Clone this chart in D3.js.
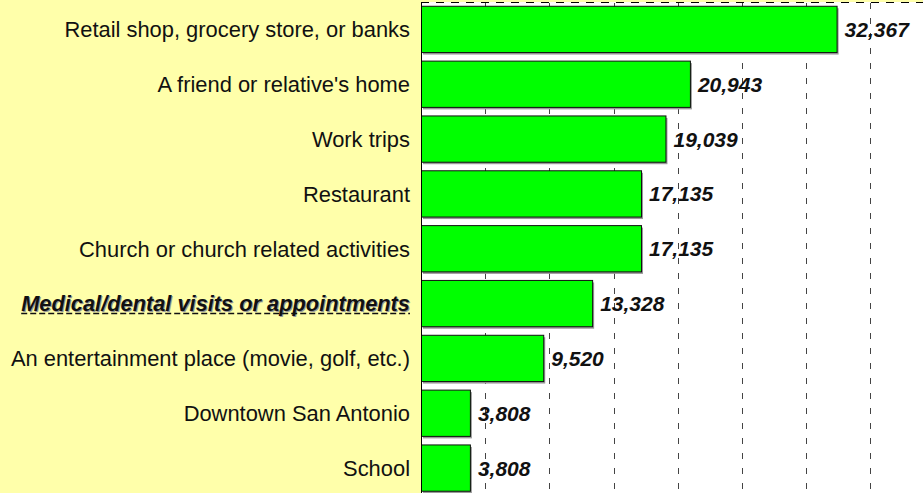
<!DOCTYPE html>
<html>
<head>
<meta charset="utf-8">
<script src="https://cdn.jsdelivr.net/npm/d3@7"></script>
<style>
  body { margin: 0; background: #FFFFAA; }
  svg text { font-family: "Liberation Sans", Arial, sans-serif; }
</style>
</head>
<body>
<div id="chart"></div>
<script>
// chart data
var categories = [
    "Retail shop, grocery store, or banks",
    "A friend or relative's home",
    "Work trips",
    "Restaurant",
    "Church or church related activities",
    "Medical/dental visits or appointments",
    "An entertainment place (movie, golf, etc.)",
    "Downtown San Antonio",
    "School"
]
var counts = [32367, 20943, 19039, 17135, 17135, 13328, 9520, 3808, 3808]
var gridTicks = [5000, 10000, 15000, 20000, 25000, 30000, 35000]
var highlighted = "Medical/dental visits or appointments"

var svgWidth = 923
var svgHeight = 493

var svg = d3.select("#chart")
    .append("svg")
    .attr("width", svgWidth)
    .attr("height", svgHeight)

// yellow background
svg.append("rect")
    .attr("width", svgWidth)
    .attr("height", svgHeight)
    .attr("fill", "#FFFFAA")

var data = categories.map((c, i) => ({ name: c, value: counts[i] }))

var xScale = d3.scaleLinear()
    .domain([0, 40000])
    .range([421, 934.6])

var yScale = d3.scaleBand()
    .domain(categories)
    .range([2, 495.5])
    .paddingInner(0.156)
    .paddingOuter(0.078)

// white plot area
svg.append("rect")
    .attr("x", xScale(0))
    .attr("y", 2)
    .attr("width", xScale(40000) - xScale(0))
    .attr("height", 500)
    .attr("fill", "#fff")

// top border dashed
svg.append("line")
    .attr("x1", xScale(0))
    .attr("x2", svgWidth)
    .attr("y1", 2.5)
    .attr("y2", 2.5)
    .attr("stroke", "#000")
    .attr("stroke-dasharray", "8,7")

// gridlines
svg.append("g")
    .selectAll("line")
    .data(gridTicks)
    .enter()
    .append("line")
    .attr("x1", d => Math.round(xScale(d)) + 0.5)
    .attr("x2", d => Math.round(xScale(d)) + 0.5)
    .attr("y1", 3)
    .attr("y2", svgHeight)
    .attr("stroke", "#444")
    .attr("stroke-dasharray", "6,9")

// bar shadows
svg.append("g")
    .selectAll("rect")
    .data(data)
    .enter()
    .append("rect")
    .attr("x", xScale(0) + 2)
    .attr("y", d => yScale(d.name) + 2)
    .attr("width", d => xScale(d.value) - xScale(0))
    .attr("height", yScale.bandwidth())
    .attr("fill", "#999")

// bars
svg.append("g")
    .selectAll("rect")
    .data(data)
    .enter()
    .append("rect")
    .attr("x", xScale(0) + 0.5)
    .attr("y", d => yScale(d.name))
    .attr("width", d => xScale(d.value) - xScale(0))
    .attr("height", yScale.bandwidth())
    .attr("fill", "#00FF00")
    .attr("stroke", "#111")
    .attr("stroke-width", 1)

// left axis line
svg.append("line")
    .attr("x1", xScale(0) + 0.5)
    .attr("x2", xScale(0) + 0.5)
    .attr("y1", 2)
    .attr("y2", svgHeight)
    .attr("stroke", "#000")

// value labels
svg.append("g")
    .selectAll("text")
    .data(data)
    .enter()
    .append("text")
    .attr("x", d => xScale(d.value) + 8)
    .attr("y", d => yScale(d.name) + yScale.bandwidth() / 2)
    .attr("dy", "0.36em")
    .attr("font-size", 21)
    .attr("font-weight", "bold")
    .attr("font-style", "italic")
    .attr("fill", "#111")
    .text(d => d3.format(",")(d.value))

// category labels
var catGroup = svg.append("g")
    .attr("text-anchor", "end")

data.forEach(d => {
    var yMid = yScale(d.name) + yScale.bandwidth() / 2
    if (d.name === highlighted) {
        catGroup.append("text")
            .attr("x", 411)
            .attr("y", yMid + 1)
            .attr("dy", "0.36em")
            .attr("font-size", 21.8)
            .attr("font-weight", "bold")
            .attr("font-style", "italic")
            .attr("fill", "#999")
            .text(d.name)
        var t = catGroup.append("text")
            .attr("x", 410)
            .attr("y", yMid)
            .attr("dy", "0.36em")
            .attr("font-size", 21.8)
            .attr("font-weight", "bold")
            .attr("font-style", "italic")
            .attr("fill", "#111")
            .text(d.name)
        var w = t.node().getComputedTextLength()
        catGroup.append("line")
            .attr("x1", 410 - w)
            .attr("x2", 410)
            .attr("y1", yMid + 10)
            .attr("y2", yMid + 10)
            .attr("stroke", "#111")
            .attr("stroke-width", 1.5)
            .attr("stroke-dasharray", "6,3")
    } else {
        catGroup.append("text")
            .attr("x", 410)
            .attr("y", yMid)
            .attr("dy", "0.36em")
            .attr("font-size", 21.9)
            .attr("fill", "#111")
            .text(d.name)
    }
})
</script>
</body>
</html>
